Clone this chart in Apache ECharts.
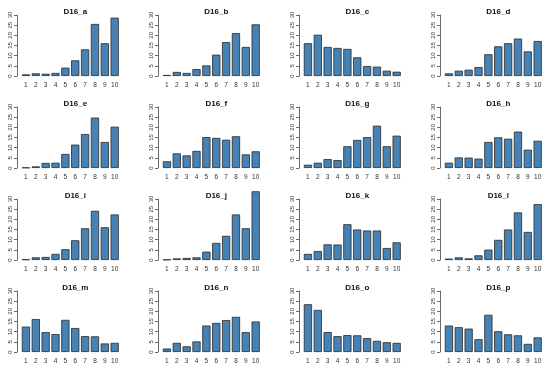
<!DOCTYPE html>
<html>
<head>
<meta charset="utf-8">
<script src="https://cdn.jsdelivr.net/npm/echarts@6/dist/echarts.min.js"></script>
<style>html,body{margin:0;padding:0;background:#fff}#chart{width:550px;height:372px}</style>
</head>
<body>
<div id="chart"></div>
<script>
const categories = ['1','2','3','4','5','6','7','8','9','10'];
const panelNames = ['D16_a','D16_b','D16_c','D16_d','D16_e','D16_f','D16_g','D16_h','D16_i','D16_j','D16_k','D16_l','D16_m','D16_n','D16_o','D16_p'];
const yTicksMax = 30;
const yTickStep = 5;

const d16_a = [0.8, 1.3, 1.1, 1.5, 4.1, 7.7, 13.1, 25.6, 16.1, 28.7];
const d16_b = [0.5, 2.0, 1.5, 3.4, 5.2, 10.5, 16.7, 21.1, 14.3, 25.4];
const d16_c = [16.1, 20.3, 14.3, 13.8, 13.3, 9.2, 4.9, 4.6, 2.6, 2.1];
const d16_d = [1.3, 2.6, 3.1, 4.4, 10.7, 14.6, 16.1, 18.4, 12.1, 17.2];
const d16_e = [0.2, 0.8, 2.5, 2.6, 6.9, 11.5, 16.7, 24.8, 12.8, 20.3];
const d16_f = [3.3, 7.2, 6.2, 8.4, 15.2, 14.8, 13.9, 15.6, 6.7, 8.2];
const d16_g = [1.6, 2.6, 4.4, 3.9, 10.7, 13.8, 15.2, 20.8, 10.7, 15.9];
const d16_h = [2.6, 5.2, 5.1, 4.6, 12.8, 15.1, 14.4, 17.9, 9.0, 13.4];
const d16_i = [0.3, 1.3, 1.5, 3.0, 5.3, 9.7, 15.6, 24.2, 16.1, 22.4];
const d16_j = [0.2, 0.8, 1.0, 1.3, 4.1, 8.4, 11.9, 22.4, 15.6, 33.8];
const d16_k = [3.0, 4.4, 7.7, 7.6, 17.6, 15.0, 14.5, 14.5, 5.9, 8.7];
const d16_l = [0.7, 1.3, 0.8, 2.3, 5.1, 9.9, 15.0, 23.4, 13.8, 27.5];
const d16_m = [12.5, 16.2, 9.8, 8.8, 15.8, 11.8, 7.8, 7.7, 4.2, 4.5];
const d16_n = [1.7, 4.5, 2.8, 5.2, 13.0, 14.3, 15.7, 17.3, 9.8, 15.0];
const d16_o = [23.5, 20.7, 9.8, 7.8, 8.3, 8.2, 6.8, 5.5, 4.8, 4.5];
const d16_p = [13.0, 12.2, 11.5, 6.3, 18.3, 10.2, 8.7, 8.2, 4.0, 7.2];

const panelValues = [d16_a,d16_b,d16_c,d16_d,d16_e,d16_f,d16_g,d16_h,d16_i,d16_j,d16_k,d16_l,d16_m,d16_n,d16_o,d16_p];

const FONT = 'Liberation Sans, Arial, Helvetica, sans-serif';
const grids = [], xAxes = [], yAxes = [], series = [], titles = [];
const colStep = 141, rowStep = 92, gLeft = 21, gTop = 15, gW = 98.6, gH = 61;

panelValues.forEach((vals, i) => {
  const r = Math.floor(i / 4), c = i % 4;
  const left = gLeft + c * colStep;
  const top = gTop + r * rowStep;
  grids.push({ left: left, top: top, width: gW, height: gH, containLabel: false });
  xAxes.push({
    type: 'category', gridIndex: i, data: categories,
    axisLine: { show: false }, axisTick: { show: false },
    axisLabel: { fontSize: 6.5, color: '#333', margin: 6, fontFamily: FONT, interval: 0 }
  });
  yAxes.push({
    type: 'value', gridIndex: i, min: 0, max: yTicksMax, interval: yTickStep,
    offset: 4,
    axisLine: { show: true, lineStyle: { color: '#444', width: 0.8 } },
    axisTick: { show: true, length: 3, lineStyle: { color: '#444', width: 0.8 } },
    splitLine: { show: false },
    axisLabel: { fontSize: 6, color: '#333', rotate: 90, margin: 3.5, fontFamily: FONT }
  });
  series.push({
    type: 'bar', xAxisIndex: i, yAxisIndex: i, data: vals,
    barCategoryGap: '16.67%', clip: false, silent: true,
    itemStyle: { color: '#4682B4', borderColor: '#2a2a2a', borderWidth: 0.8 }
  });
  titles.push({
    text: panelNames[i], left: left + gW / 2, top: r * rowStep + 3, textAlign: 'center',
    textStyle: { fontSize: 8, fontWeight: 'bold', color: '#111', fontFamily: FONT }
  });
});

const chart = echarts.init(document.getElementById('chart'), null, { renderer: 'canvas' });
chart.setOption({
  animation: false,
  backgroundColor: '#fff',
  title: titles, grid: grids, xAxis: xAxes, yAxis: yAxes, series: series
});
</script>
</body>
</html>
